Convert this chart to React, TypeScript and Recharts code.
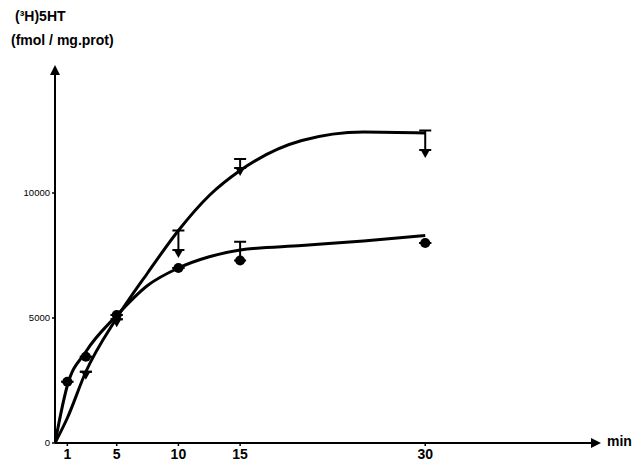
import React from 'react';
import { ComposedChart, Line, Scatter, XAxis, YAxis, ErrorBar, ReferenceDot } from 'recharts';

// smooth curves
const curveTimes = [0, 1, 2.5, 5, 7.5, 10, 12.5, 15, 20, 25, 30];
const lowerCurve = [0, 2300, 3650, 5100, 6300, 7000, 7450, 7720, 7900, 8080, 8300];
const upperCurve = [0, 1000, 2850, 5000, 6800, 8500, 9900, 10900, 12100, 12440, 12400];

// circle markers
const circleTimes = [1, 2.5, 5, 10, 15, 30];
const circleValues = [2450, 3450, 5120, 7000, 7300, 8000];
const circleErrUp = [0, 0, 0, 0, 750, 0];

// triangle markers (value = top of marker)
const triTimes = [2.5, 5, 10, 15, 30];
const triValues = [2850, 4950, 7720, 11000, 11720];
const triErrUp = [0, 0, 780, 360, 780];

const xTicks = [1, 5, 10, 15, 30];
const yTicks = [0, 5000, 10000];

const curveData = curveTimes.map((t, i) => ({ t, lower: lowerCurve[i], upper: upperCurve[i] }));
const circleData = circleTimes.map((t, i) => ({ t, v: circleValues[i], e: [0, circleErrUp[i]] }));
const triData = triTimes.map((t, i) => ({ t, v: triValues[i], e: [0, triErrUp[i]] }));

const FONT = '"Liberation Sans", Arial, sans-serif';

const CircleShape = (p: any) => <circle cx={p.cx} cy={p.cy} r={5} fill="#000" />;
const TriShape = (p: any) => (
  <polygon points={`${p.cx - 4.5},${p.cy} ${p.cx + 4.5},${p.cy} ${p.cx},${p.cy + 8}`} fill="#000" />
);

export default function App() {
  return (
    <div style={{ position: 'absolute', left: 0, top: 0, width: 644, height: 461, background: '#fff', fontFamily: FONT }}>
      <div style={{ position: 'absolute', left: 15, top: 8, fontSize: 14, fontWeight: 'bold', color: '#000' }}>(³H)5HT</div>
      <div style={{ position: 'absolute', left: 11, top: 32, fontSize: 14, fontWeight: 'bold', color: '#000' }}>(fmol / mg.prot)</div>
      <div style={{ position: 'absolute', left: 0, top: 0 }}>
        <ComposedChart width={644} height={461} margin={{ top: 68, right: 46, left: 0, bottom: 0 }}>
          <XAxis
            dataKey="t"
            type="number"
            domain={[0, 44]}
            ticks={xTicks}
            allowDataOverflow
            height={18}
            axisLine={{ stroke: '#000', strokeWidth: 2 }}
            tickLine={{ stroke: '#000', strokeWidth: 1.5 }}
            tickSize={3}
            tick={{ fill: '#000', fontSize: 14, fontWeight: 'bold', fontFamily: FONT, dy: 1 }}
          />
          <YAxis
            type="number"
            domain={[0, 15000]}
            ticks={yTicks}
            allowDataOverflow
            width={55}
            axisLine={{ stroke: '#000', strokeWidth: 2 }}
            tickLine={{ stroke: '#000', strokeWidth: 1.5 }}
            tickSize={3}
            tick={{ fill: '#000', fontSize: 9.5, fontFamily: FONT }}
          />
          <Line data={curveData} dataKey="lower" type="monotone" stroke="#000" strokeWidth={3} dot={false} isAnimationActive={false} />
          <Line data={curveData} dataKey="upper" type="monotone" stroke="#000" strokeWidth={3} dot={false} isAnimationActive={false} />
          <Scatter data={circleData} dataKey="v" shape={CircleShape} isAnimationActive={false}>
            <ErrorBar dataKey="e" direction="y" width={6} stroke="#000" strokeWidth={2} isAnimationActive={false} />
          </Scatter>
          <Scatter data={triData} dataKey="v" shape={TriShape} isAnimationActive={false}>
            <ErrorBar dataKey="e" direction="y" width={6} stroke="#000" strokeWidth={2} isAnimationActive={false} />
          </Scatter>
          <ReferenceDot
            x={0}
            y={15000}
            ifOverflow="visible"
            shape={(p: any) => (
              <polygon points={`${p.cx - 5},${p.cy + 7} ${p.cx + 5},${p.cy + 7} ${p.cx},${p.cy - 3}`} fill="#000" />
            )}
          />
          <ReferenceDot
            x={44}
            y={0}
            ifOverflow="visible"
            shape={(p: any) => (
              <g>
                <polygon points={`${p.cx - 7},${p.cy - 5} ${p.cx - 7},${p.cy + 5} ${p.cx + 3},${p.cy}`} fill="#000" />
                <text x={p.cx + 9} y={p.cy + 3} fontSize={14} fontWeight="bold" fontFamily={FONT} fill="#000">min</text>
              </g>
            )}
          />
        </ComposedChart>
      </div>
    </div>
  );
}
